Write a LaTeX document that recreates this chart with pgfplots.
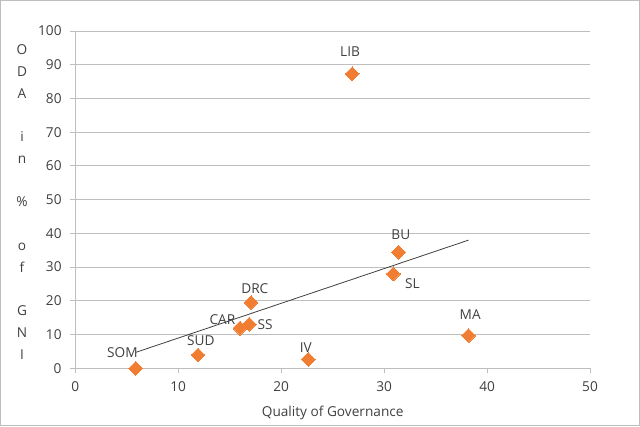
\documentclass[border=0pt]{standalone}
\usepackage{pgfplots}
\pgfplotsset{compat=1.18}
\usepackage{fontspec}
\setmainfont{Open Sans}
\definecolor{mk}{HTML}{F07D32}
\definecolor{tx}{HTML}{404040}
\definecolor{gr}{HTML}{BEBEBE}
\begin{document}
\begin{tikzpicture}[x=1bp,y=1bp]
\fontsize{13.7}{16}\selectfont
\draw[gr, line width=1bp] (0.5,0.5) rectangle (639.5,425.5);
\begin{axis}[
  at={(75.3bp,57.7bp)}, anchor=south west,
  scale only axis, width=514.7bp, height=337.3bp,
  xmin=0, xmax=50, ymin=0, ymax=100,
  xtick={0,10,...,50}, ytick={0,10,...,100},
  axis lines*=left,
  axis line style={gr, line width=0.9bp},
  ymajorgrids, grid style={gr, line width=0.9bp},
  tick style={gr, line width=0.9bp},
  tick align=outside, major tick length=5bp,
  /pgf/number format/assume math mode=true,
  ticklabel style={font=\fontsize{13.7}{16}\selectfont, text=tx},
  yticklabel style={xshift=-4bp},
  xticklabel style={yshift=-4bp},
  clip=false,
]
\addplot[only marks, color=mk, fill=mk, draw=none, mark=square*, mark size=4.9bp, mark options={rotate=45, fill=mk, draw=mk, line width=0pt}] coordinates {
(5.87,0) (11.92,3.95) (16.0,11.9) (16.9,13.05) (17.07,19.5) (22.64,2.67) (31.39,34.4) (30.9,28.0) (38.2,9.7) (26.9,87.3)
};
\addplot[tx, line width=0.8bp] coordinates {(5.9,4.75) (38.2,38.0)};
\begin{scope}[every node/.style={text=tx, font=\fontsize{13.7}{16}\selectfont}]
\node at (axis cs:26.69,93.86) {LIB};
\node at (axis cs:4.57,4.62) {SOM};
\node at (axis cs:12.19,8.18) {SUD};
\node at (axis cs:14.29,14.32) {CAR};
\node at (axis cs:18.44,13.05) {SS};
\node at (axis cs:17.44,23.72) {DRC};
\node at (axis cs:22.39,6.11) {IV};
\node at (axis cs:31.62,39.52) {BU};
\node at (axis cs:32.75,25.2) {SL};
\node at (axis cs:38.36,15.8) {MA};
\end{scope}
\end{axis}
\node[text=tx, anchor=base] at (332.7,10) {Quality of Governance};
\node[text=tx, align=center, font=\fontsize{13.7}{21.84}\selectfont] at (22,224) {O\\D\\A\\\strut\\i\\n\\\strut\\\%\\\strut\\o\\f\\\strut\\G\\N\\I};
\end{tikzpicture}
\end{document}
